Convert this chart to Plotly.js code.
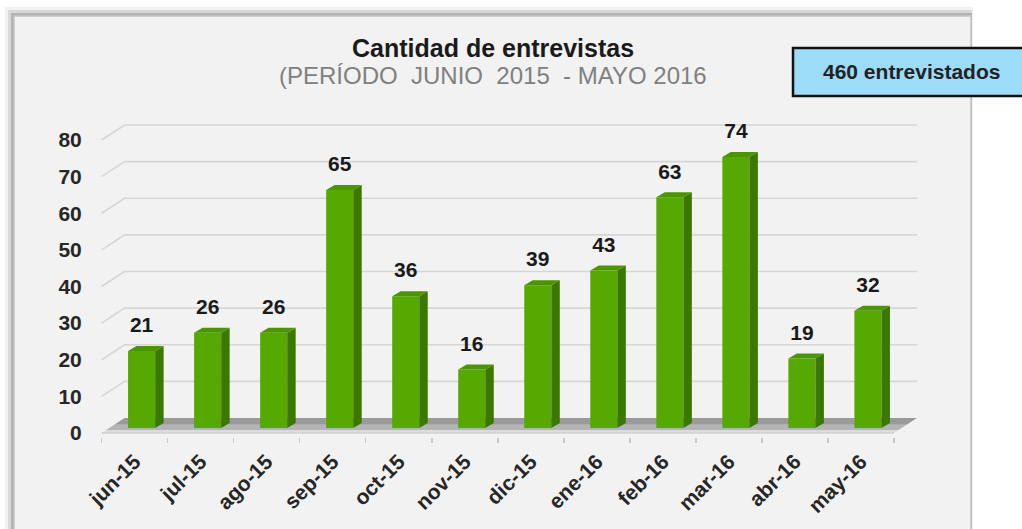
<!DOCTYPE html>
<html>
<head>
<meta charset="utf-8">
<script src="https://cdn.plot.ly/plotly-3.0.1.min.js"></script>
<style>html,body{margin:0;padding:0;background:#fff;}#chart{width:1022px;height:529px;}</style>
</head>
<body>
<div id="chart"></div>
<script>
// ---- data ----
const months = ['jun-15','jul-15','ago-15','sep-15','oct-15','nov-15','dic-15','ene-16','feb-16','mar-16','abr-16','may-16'];
const counts = [21, 26, 26, 65, 36, 16, 39, 43, 63, 74, 19, 32];
const yTicks = [0, 10, 20, 30, 40, 50, 60, 70, 80];
const titleText = 'Cantidad de entrevistas';
const subtitleText = '(PERÍODO\u00A0 JUNIO\u00A0 2015\u00A0 - MAYO 2016';
const totalText = '460 entrevistados';

// ---- layout geometry (pixels) ----
const W = 1022, H = 529;
const ML = 95, MR = 97, MT = 118, MB = 92;
const PW = W - ML - MR, PH = H - MT - MB;
const px2x = p => (p - ML) / PW;
const px2y = p => (H - MB - p) / PH;

// 3D styling offsets (axis units)
const wallDX = 0.348, wallDY = 4.1;     // depth of back wall
const barBase = 1.365, barShift = 0.106; // bar plane offset
const barW = 0.41, sideDX = 0.128, sideDY = 1.365;
const labelLift = 7.9;
const FONT = 'Arial, "Liberation Sans", sans-serif';

const idx = months.map((m, i) => i);
const traces = [];

// bar front faces
traces.push({
  type: 'bar', x: idx, y: counts, base: barBase, width: barW,
  offset: -barW / 2 + barShift,
  marker: {color: '#55a900', line: {width: 0}}, hoverinfo: 'skip', showlegend: false
});

// side and top faces
const sx = [], sy = [], tx = [], ty = [];
counts.forEach((v, i) => {
  const L = i + barShift - barW / 2, R = i + barShift + barW / 2;
  const b = barBase, t = barBase + v;
  sx.push(R, R + sideDX, R + sideDX, R, R, null);
  sy.push(b, b + sideDY, t + sideDY, t, b, null);
  tx.push(L, R, R + sideDX, L + sideDX, L, null);
  ty.push(t, t, t + sideDY, t + sideDY, t, null);
});
traces.push({type: 'scatter', mode: 'lines', fill: 'toself', fillcolor: '#3b7800',
  line: {width: 0, color: '#3b7800'}, x: sx, y: sy, hoverinfo: 'skip', showlegend: false});
traces.push({type: 'scatter', mode: 'lines', fill: 'toself', fillcolor: '#4a9500',
  line: {width: 0, color: '#4a9500'}, x: tx, y: ty, hoverinfo: 'skip', showlegend: false});

// value labels
traces.push({
  type: 'scatter', mode: 'text', x: idx.map(i => i + barShift), y: counts.map(v => v + labelLift),
  text: counts.map(String), textposition: 'middle center', cliponaxis: false,
  textfont: {family: FONT, size: 21, color: '#1a1a1a', weight: 'bold'},
  hoverinfo: 'skip', showlegend: false
});

const boxX0 = 793, boxX1 = 1032, boxY0 = 48, boxY1 = 96;
const shapes = [
  // panel shadow (top-left)
  {type: 'rect', xref: 'paper', yref: 'paper', layer: 'below', x0: px2x(5), x1: px2x(973), y0: px2y(7), y1: px2y(560), fillcolor: 'rgba(0,0,0,0.05)', line: {width: 0}},
  {type: 'rect', xref: 'paper', yref: 'paper', layer: 'below', x0: px2x(8), x1: px2x(972), y0: px2y(10), y1: px2y(560), fillcolor: 'rgba(0,0,0,0.10)', line: {width: 0}},
  {type: 'rect', xref: 'paper', yref: 'paper', layer: 'below', x0: px2x(11), x1: px2x(972), y0: px2y(13), y1: px2y(560), fillcolor: 'rgba(0,0,0,0.18)', line: {width: 0}},
  // panel
  {type: 'rect', xref: 'paper', yref: 'paper', layer: 'below', x0: px2x(14), x1: px2x(971), y0: px2y(16), y1: px2y(560), fillcolor: '#f2f2f2', line: {color: '#c4c4c4', width: 1.5}}
];

// floor bands (behind bars)
const bands = [[0, 0.2, '#dcdcdc'], [0.2, 0.55, '#b4b4b4'], [0.55, 1, '#9a9a9a']];
bands.forEach(([d0, d1, c]) => {
  shapes.push({type: 'path', xref: 'x', yref: 'y', layer: 'below', fillcolor: c, line: {width: 0},
    path: 'M' + (-0.5 + wallDX * d0) + ',' + (wallDY * d0) +
          ' L' + (11.5 + wallDX * d0) + ',' + (wallDY * d0) +
          ' L' + (11.5 + wallDX * d1) + ',' + (wallDY * d1) +
          ' L' + (-0.5 + wallDX * d1) + ',' + (wallDY * d1) + ' Z'});
});
shapes.push({type: 'line', xref: 'x', yref: 'y', layer: 'below', x0: -0.5, x1: 11.5, y0: 0, y1: 0,
  line: {color: '#d0d0d0', width: 1.5}});

// wall gridlines (behind bars)
yTicks.filter(v => v > 0).forEach(v => {
  shapes.push({type: 'path', xref: 'x', yref: 'y', layer: 'below', line: {color: '#d6d6d6', width: 1.6},
    path: 'M' + (-0.5) + ',' + v + ' L' + (-0.5 + wallDX) + ',' + (v + wallDY) + ' L' + (11.5 + wallDX) + ',' + (v + wallDY)});
});

// total box
shapes.push({type: 'rect', xref: 'paper', yref: 'paper', layer: 'above', x0: px2x(boxX0), x1: px2x(boxX1), y0: px2y(boxY1), y1: px2y(boxY0), fillcolor: '#9ddcf8', line: {color: '#111111', width: 2.5}});

const annotations = [
  {xref: 'paper', yref: 'paper', x: px2x(493), y: px2y(47.5), xanchor: 'center', yanchor: 'middle', showarrow: false,
   text: titleText, font: {family: FONT, size: 25, color: '#1a1a1a', weight: 'bold'}},
  {xref: 'paper', yref: 'paper', x: px2x(493), y: px2y(75.5), xanchor: 'center', yanchor: 'middle', showarrow: false,
   text: subtitleText, font: {family: FONT, size: 24, color: '#808080'}},
  {xref: 'paper', yref: 'paper', x: px2x(911), y: px2y(72), xanchor: 'center', yanchor: 'middle', showarrow: false,
   text: totalText, font: {family: FONT, size: 21, color: '#222222', weight: 'bold'}}
];

const layout = {
  width: W, height: H,
  margin: {l: ML, r: MR, t: MT, b: MB, pad: 0},
  paper_bgcolor: '#ffffff', plot_bgcolor: 'rgba(0,0,0,0)',
  showlegend: false, hovermode: false, barmode: 'overlay',
  xaxis: {
    type: 'linear', range: [-0.6, 11.97], tickmode: 'array', tickvals: idx, ticktext: months,
    tickangle: -45, showgrid: false, zeroline: false, showline: false,
    ticks: 'outside', ticklen: 3, tickcolor: 'rgba(0,0,0,0)',
    minor: {tickmode: 'linear', tick0: -0.5, dtick: 1, ticks: 'outside', ticklen: 5, tickcolor: '#c8c8c8', tickwidth: 1.5, showgrid: false},
    tickfont: {family: FONT, size: 21, color: '#262626', weight: 'bold'},
    fixedrange: true
  },
  yaxis: {
    range: [-1.09, 86.0], tickmode: 'array', tickvals: yTicks,
    showgrid: false, zeroline: false, showline: false,
    ticks: 'outside', ticklen: 8, tickcolor: 'rgba(0,0,0,0)',
    tickfont: {family: FONT, size: 21, color: '#262626', weight: 'bold'},
    fixedrange: true
  },
  shapes: shapes,
  annotations: annotations
};

Plotly.newPlot('chart', traces, layout, {displayModeBar: false, staticPlot: true});
</script>
</body>
</html>
